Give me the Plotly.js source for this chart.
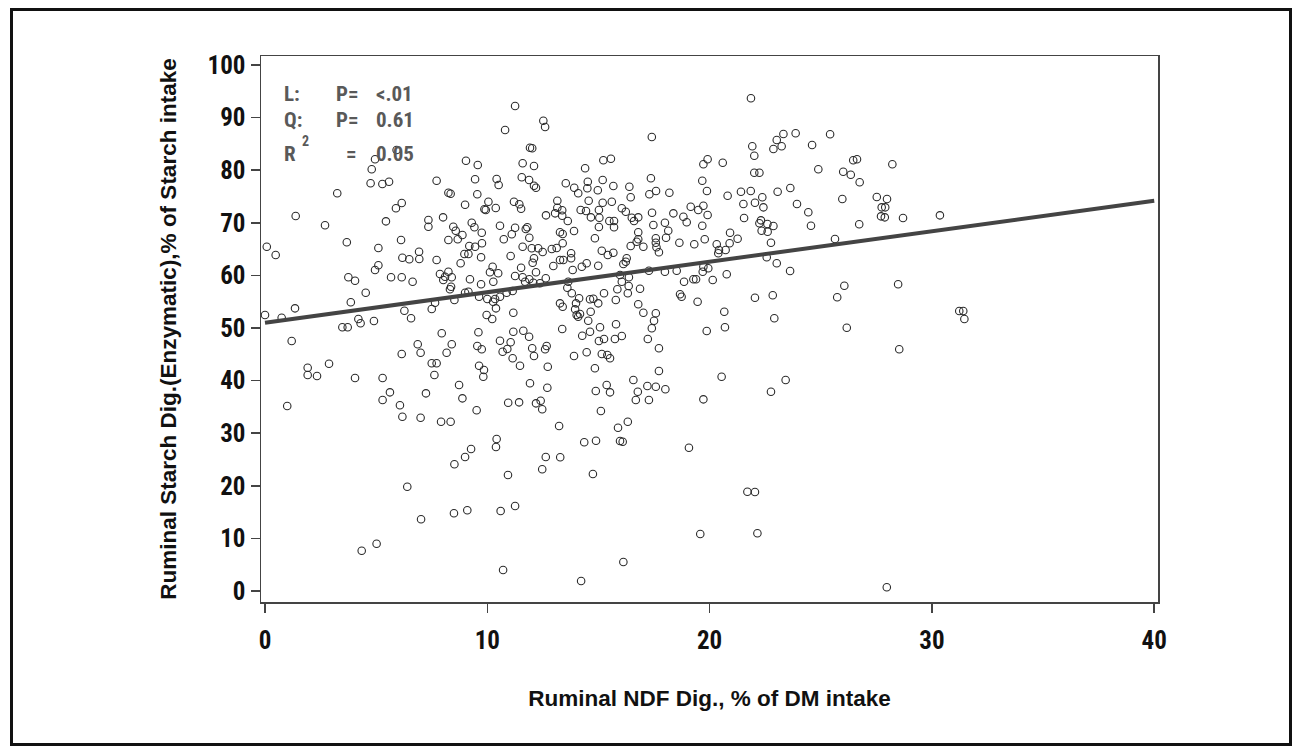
<!DOCTYPE html>
<html>
<head>
<meta charset="utf-8">
<script src="https://cdn.plot.ly/plotly-3.0.1.min.js"></script>
<style>
  html, body { margin: 0; padding: 0; background: #fff; }
  #wrap { position: relative; width: 1301px; height: 747px; overflow: hidden; }
  #chart { position: absolute; left: 0; top: 0; width: 1301px; height: 747px; }
  #frame { position: absolute; left: 10px; top: 8px; width: 1282px; height: 738px;
           box-sizing: border-box; border: 3px solid #111; pointer-events: none; }
</style>
</head>
<body>
<div id="wrap">
  <div id="chart"></div>
  <div id="frame"></div>
</div>
<script>
// Ruminal NDF digestibility (% of DM intake) for each observation
const ndfDig = [
  9.04, 9.57, 4.95, 5.92, 4.80, 4.75, 5.28, 5.58, 7.72, 9.45, 3.25, 8.25, 8.35, 9.55, 9.00, 9.87,
  6.15, 5.89, 1.38, 2.70, 5.44, 7.35, 7.35, 8.01, 8.47, 8.58, 8.88, 9.30, 9.42, 9.75, 8.25, 8.67,
  3.68, 6.12, 0.08, 0.48, 5.10, 6.18, 6.49, 6.93, 6.94, 7.72, 8.97, 9.15, 8.80, 9.72, 5.10, 4.95,
  3.75, 4.05, 5.67, 6.15, 6.64, 7.87, 8.25, 8.10, 8.40, 8.02, 8.37, 8.32, 9.22, 9.72, 4.53, 9.00,
  9.15, 8.52, 9.63, 3.86, 1.35, 7.65, 0.00, 0.75, 6.27, 7.50, 6.57, 4.20, 4.30, 4.90, 3.48, 3.72,
  1.20, 7.95, 9.60, 6.87, 7.00, 8.40, 8.17, 9.55, 9.75, 6.15, 1.92, 1.92, 2.34, 2.88, 7.50, 7.72,
  7.62, 9.63, 9.85, 9.82, 4.05, 5.29, 8.73, 5.62, 5.29, 7.24, 8.88, 6.07, 1.00, 6.18, 7.00, 7.92,
  8.35, 9.52, 9.27, 9.00, 8.52, 6.40, 7.02, 8.50, 9.10, 5.02, 4.35, 11.25, 10.80, 12.52, 12.60, 11.92,
  12.02, 17.40, 11.59, 12.10, 15.22, 15.56, 14.40, 19.72, 19.91, 10.42, 10.51, 11.55, 11.88, 12.10, 12.19, 13.53,
  14.52, 14.50, 15.19, 13.91, 14.09, 14.97, 15.67, 16.39, 16.45, 17.36, 17.29, 17.59, 18.19, 19.67, 19.88, 10.05,
  9.93, 10.38, 11.20, 11.44, 11.52, 13.15, 14.56, 15.19, 15.60, 13.15, 13.37, 13.05, 13.37, 12.64, 13.62, 14.20,
  14.44, 15.02, 14.66, 15.04, 15.49, 15.70, 15.02, 15.70, 16.05, 16.23, 16.50, 16.60, 16.79, 17.41, 17.47, 18.37,
  18.82, 18.97, 19.15, 19.49, 19.72, 19.91, 17.99, 18.14, 18.04, 19.67, 16.79, 16.79, 17.58, 17.58, 10.57, 11.25,
  11.73, 11.80, 11.10, 11.89, 10.74, 13.27, 13.39, 13.90, 14.84, 18.64, 19.31, 19.78, 9.76, 11.59, 12.00, 12.29,
  12.49, 12.90, 13.12, 13.39, 13.27, 13.42, 13.77, 13.77, 11.05, 12.10, 12.04, 12.97, 13.84, 14.25, 14.47, 14.99,
  15.15, 15.42, 15.67, 16.45, 17.02, 16.72, 17.61, 17.72, 16.12, 16.23, 16.27, 10.24, 10.12, 10.49, 11.52, 12.19,
  11.25, 11.59, 11.89, 11.70, 12.07, 10.27, 12.63, 12.37, 13.64, 13.60, 15.97, 16.37, 16.05, 15.85, 16.36, 16.32,
  16.87, 17.27, 17.99, 18.52, 18.85, 19.27, 19.39, 19.72, 19.69, 19.94, 18.67, 18.74, 19.46, 11.14, 10.87, 10.57,
  10.35, 10.00, 10.26, 13.80, 14.13, 13.99, 14.62, 14.77, 14.99, 15.25, 15.78, 16.79, 13.27, 13.39, 13.95, 14.02,
  14.17, 14.09, 14.65, 14.54, 10.39, 9.97, 10.22, 11.17, 17.02, 17.58, 17.50, 17.40, 15.79, 15.07, 13.37, 19.87,
  11.17, 11.62, 11.88, 14.27, 14.62, 15.02, 15.25, 15.74, 16.05, 17.22, 10.57, 11.05, 10.90, 10.69, 12.02, 12.10,
  12.67, 12.60, 14.47, 13.90, 15.15, 15.40, 15.52, 17.72, 11.14, 11.47, 12.72, 14.84, 17.72, 11.92, 12.70, 14.88,
  15.37, 15.52, 16.57, 16.77, 17.20, 17.58, 18.01, 16.68, 17.27, 19.72, 10.94, 11.43, 12.19, 12.40, 12.47, 15.11,
  13.23, 16.32, 15.88, 10.42, 10.39, 14.36, 14.89, 15.97, 16.09, 19.07, 12.63, 13.28, 12.47, 10.93, 14.75, 11.25,
  10.60, 19.58, 16.12, 10.71, 14.22, 21.86, 23.87, 23.32, 23.02, 22.87, 23.24, 25.42, 21.92, 22.01, 24.61, 20.59,
  22.01, 22.24, 24.89, 26.46, 26.63, 28.22, 26.01, 26.35, 26.75, 20.81, 21.41, 21.85, 23.06, 23.63, 22.37, 22.42,
  22.04, 21.52, 23.93, 25.97, 27.52, 27.98, 27.74, 27.90, 27.71, 27.88, 28.70, 24.44, 21.55, 22.31, 22.24, 22.60,
  22.87, 22.34, 22.61, 24.56, 26.73, 20.92, 20.90, 21.26, 20.32, 22.76, 25.64, 30.36, 20.42, 20.72, 20.39, 22.57,
  23.02, 23.62, 20.77, 20.14, 26.06, 28.48, 22.04, 22.84, 25.74, 20.66, 20.69, 22.91, 26.17, 28.53, 20.54, 23.42,
  22.76, 31.23, 31.41, 31.46, 21.70, 22.04, 22.15, 27.97, 9.19, 9.45
];

// Ruminal starch digestibility (enzymatic, % of starch intake), same order
const starchDig = [
  81.80, 80.99, 82.07, 83.84, 80.17, 77.51, 77.37, 77.81, 78.00, 78.27, 75.61, 75.72, 75.53, 75.42, 73.44, 72.57,
  73.76, 72.76, 71.29, 69.52, 70.28, 70.53, 69.26, 71.04, 69.26, 68.50, 67.68, 70.02, 69.14, 68.12, 66.73, 66.86,
  66.29, 66.73, 65.46, 63.88, 65.21, 63.36, 63.06, 64.50, 63.12, 62.93, 64.07, 64.07, 62.30, 63.44, 61.92, 61.03,
  59.64, 58.99, 59.64, 59.64, 58.80, 60.27, 60.70, 59.75, 59.64, 59.12, 57.85, 57.36, 59.26, 58.31, 56.71, 56.71,
  56.90, 55.32, 55.95, 54.89, 53.74, 54.81, 52.47, 51.96, 53.29, 53.61, 51.84, 51.71, 50.89, 51.33, 50.13, 50.13,
  47.53, 48.99, 49.18, 46.90, 45.30, 46.90, 45.30, 46.58, 45.95, 45.06, 42.45, 41.06, 40.87, 43.21, 43.29, 43.29,
  41.06, 42.83, 42.01, 40.74, 40.49, 40.49, 39.16, 37.77, 36.31, 37.58, 36.63, 35.30, 35.17, 33.14, 32.95, 32.19,
  32.19, 34.35, 27.00, 25.47, 24.09, 19.83, 13.63, 14.77, 15.34, 8.99, 7.66, 92.20, 87.64, 89.41, 88.21, 84.28,
  84.16, 86.31, 81.31, 80.80, 81.88, 82.19, 80.36, 81.12, 82.07, 78.33, 77.18, 78.65, 78.14, 77.05, 76.67, 77.51,
  77.81, 76.56, 78.14, 76.67, 75.61, 76.18, 77.00, 76.86, 74.85, 78.46, 75.42, 76.04, 75.72, 78.00, 76.04, 74.01,
  72.43, 72.81, 74.01, 73.52, 72.68, 74.20, 74.20, 73.82, 74.01, 72.87, 72.38, 71.80, 71.35, 71.42, 70.34, 72.43,
  72.24, 72.43, 71.04, 70.97, 70.34, 70.34, 69.20, 69.14, 72.76, 72.11, 70.97, 70.34, 71.04, 71.92, 69.58, 71.80,
  71.16, 70.09, 73.06, 72.43, 73.25, 71.48, 70.02, 68.50, 67.17, 69.45, 68.19, 66.86, 67.05, 66.22, 69.45, 69.07,
  68.82, 69.14, 67.81, 67.17, 66.86, 68.19, 67.87, 68.44, 67.05, 66.22, 65.91, 66.86, 66.10, 65.46, 65.15, 65.15,
  64.45, 65.02, 65.21, 66.10, 62.93, 62.93, 64.20, 63.25, 63.69, 63.25, 62.41, 61.79, 61.03, 61.65, 62.30, 61.84,
  64.70, 63.88, 64.31, 65.59, 65.46, 66.41, 65.34, 64.39, 62.17, 62.60, 63.25, 61.65, 60.59, 60.40, 61.46, 60.59,
  59.88, 59.64, 59.26, 58.80, 58.61, 58.80, 59.45, 58.50, 58.80, 57.66, 60.07, 59.64, 58.80, 57.36, 57.98, 56.60,
  57.47, 60.89, 60.70, 60.89, 58.80, 59.26, 59.26, 61.65, 60.70, 61.35, 56.41, 55.95, 55.00, 57.03, 56.71, 55.95,
  55.51, 55.51, 55.00, 56.60, 55.65, 54.69, 55.46, 55.57, 54.69, 56.60, 55.32, 54.51, 54.69, 54.05, 53.55, 52.47,
  52.66, 52.15, 53.10, 51.39, 53.74, 52.47, 51.71, 52.91, 52.91, 52.79, 51.39, 49.94, 50.70, 50.13, 49.81, 49.43,
  49.30, 49.49, 48.35, 48.54, 49.30, 47.53, 47.91, 47.91, 48.48, 47.91, 47.58, 47.28, 46.01, 45.49, 46.14, 44.68,
  46.58, 45.95, 45.38, 44.68, 45.06, 44.87, 44.24, 46.14, 44.24, 42.83, 42.64, 42.34, 41.82, 39.49, 38.65, 38.02,
  39.16, 37.77, 40.11, 37.89, 38.97, 38.84, 38.35, 36.31, 36.31, 36.44, 35.80, 35.87, 35.68, 36.18, 34.54, 34.22,
  31.37, 32.19, 31.05, 28.90, 27.38, 28.27, 28.57, 28.52, 28.38, 27.24, 25.47, 25.42, 23.14, 22.05, 22.24, 16.16,
  15.21, 10.84, 5.51, 3.99, 1.90, 93.67, 87.01, 86.88, 85.74, 84.03, 84.54, 86.82, 84.54, 82.76, 84.79, 81.42,
  79.52, 79.52, 80.17, 81.88, 82.07, 81.12, 79.71, 79.14, 77.70, 75.15, 75.91, 76.04, 75.91, 76.61, 74.85, 72.94,
  73.82, 73.57, 73.57, 74.52, 74.90, 74.52, 72.94, 72.94, 71.23, 71.04, 70.91, 72.00, 70.91, 70.47, 69.90, 69.77,
  69.39, 68.50, 68.31, 69.45, 69.71, 68.12, 66.10, 66.98, 65.91, 66.22, 66.92, 71.42, 64.83, 64.83, 64.20, 63.44,
  62.30, 60.84, 60.21, 59.12, 58.04, 58.31, 55.76, 56.22, 55.84, 53.10, 50.13, 51.84, 50.06, 45.95, 40.74, 40.11,
  37.89, 53.23, 53.23, 51.71, 18.88, 18.82, 10.97, 0.70, 65.59, 65.46
];

// Fitted linear trend, evaluated at the ends of the x axis
const fitX = [0, 40];
const fitY = [51.0, 74.2];

// Axis ticks
const xTicks = [0, 10, 20, 30, 40];
const xTickText = ['0', '10', '20', '30', '40'];
const yTicks = [0, 10, 20, 30, 40, 50, 60, 70, 80, 90, 100];
const yTickText = ['0', '10', '20', '30', '40', '50', '60', '70', '80', '90', '100'];

// Significance statistics shown in the upper-left corner
const statLabels = ['L:', 'Q:'];
const statEquals = ['P=', 'P='];
const statValues = ['<.01', '0.61'];
const r2Value = '0.05';

const condensed = '"Roboto Condensed", "DejaVu Sans Condensed", sans-serif';
const titleFamily = '"Liberation Sans", Arial, sans-serif';
const statFont = { family: condensed, size: 21, color: '#595959', weight: 'bold' };

const traces = [
  {
    type: 'scatter', mode: 'markers', x: ndfDig, y: starchDig,
    marker: { symbol: 'circle-open', size: 7.5, color: '#2a2a2a', line: { width: 1.1, color: '#2a2a2a' } },
    hoverinfo: 'x+y', showlegend: false
  },
  {
    type: 'scatter', mode: 'lines', x: fitX, y: fitY,
    line: { color: '#444444', width: 4 }, hoverinfo: 'skip', showlegend: false
  }
];

const rowY = [0.930, 0.882];
const annotations = [];
statLabels.forEach((t, i) => {
  annotations.push({ xref: 'paper', yref: 'paper', x: 0.0237, y: rowY[i], xanchor: 'left', yanchor: 'middle', text: t, showarrow: false, font: statFont });
  annotations.push({ xref: 'paper', yref: 'paper', x: 0.0814, y: rowY[i], xanchor: 'left', yanchor: 'middle', text: statEquals[i], showarrow: false, font: statFont });
  annotations.push({ xref: 'paper', yref: 'paper', x: 0.126, y: rowY[i], xanchor: 'left', yanchor: 'middle', text: statValues[i], showarrow: false, font: statFont });
});
annotations.push({ xref: 'paper', yref: 'paper', x: 0.0237, y: 0.821, xanchor: 'left', yanchor: 'middle', text: 'R', showarrow: false, font: statFont });
annotations.push({ xref: 'paper', yref: 'paper', x: 0.0435, y: 0.845, xanchor: 'left', yanchor: 'middle', text: '2', showarrow: false, font: Object.assign({}, statFont, { size: 14 }) });
annotations.push({ xref: 'paper', yref: 'paper', x: 0.0925, y: 0.821, xanchor: 'left', yanchor: 'middle', text: '=', showarrow: false, font: statFont });
annotations.push({ xref: 'paper', yref: 'paper', x: 0.126, y: 0.821, xanchor: 'left', yanchor: 'middle', text: r2Value, showarrow: false, font: statFont });

const axisCommon = {
  showline: true, mirror: true, linecolor: '#444', linewidth: 1.5,
  showgrid: false, zeroline: false,
  ticks: 'outside', ticklen: 9, tickwidth: 1.5, tickcolor: '#444',
  tickfont: { family: condensed, size: 25, color: '#111', weight: 'bold' }
};

const layout = {
  width: 1301, height: 747,
  margin: { l: 261, r: 143, t: 56, b: 145 },
  paper_bgcolor: 'rgba(0,0,0,0)', plot_bgcolor: '#fff',
  xaxis: Object.assign({}, axisCommon, {
    range: [-0.18, 40.17], tickmode: 'array', tickvals: xTicks, ticktext: xTickText,
    ticklabelstandoff: 6,
    title: { text: 'Ruminal NDF Dig., % of DM intake', standoff: 36,
             font: { family: titleFamily, size: 22.5, color: '#111', weight: 'bold' } }
  }),
  yaxis: Object.assign({}, axisCommon, {
    range: [-2.09, 101.71], tickmode: 'array', tickvals: yTicks, ticktext: yTickText,
    title: { text: 'Ruminal Starch Dig.(Enzymatic),% of Starch intake', standoff: 24,
             font: { family: titleFamily, size: 22.5, color: '#111', weight: 'bold' } }
  }),
  annotations: annotations
};

Plotly.newPlot('chart', traces, layout, { displayModeBar: false, staticPlot: true });
</script>
</body>
</html>
